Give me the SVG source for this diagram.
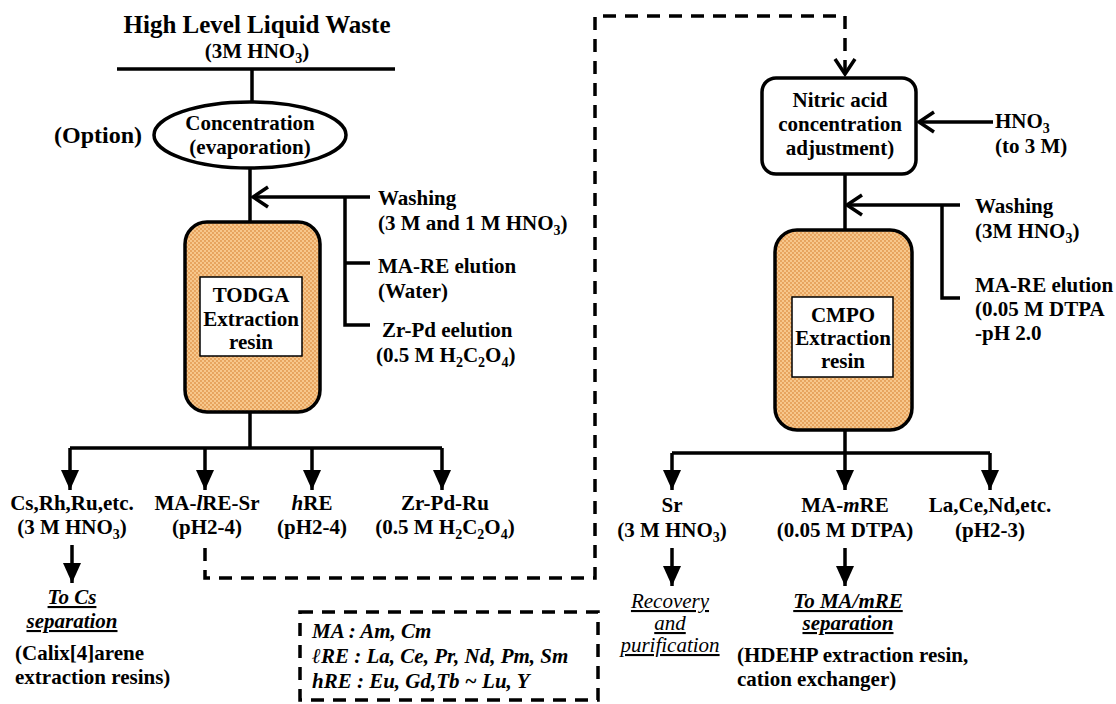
<svg xmlns="http://www.w3.org/2000/svg" width="1116" height="704" viewBox="0 0 1116 704">
<style>
.t{font-family:"Liberation Serif","Times New Roman",serif;font-weight:bold;font-size:21px;fill:#000}
.ttl{font-size:25px}
.opt{font-size:24px}
.n{font-weight:normal}
.sub{font-size:14px}
.m{text-anchor:middle}
.it{font-style:italic}
.u{text-decoration:underline}
.ln{fill:none;stroke:#000;stroke-width:3.5}
.ds{fill:none;stroke:#000;stroke-width:3.5;stroke-dasharray:13 9}
.box{fill:#fff;stroke:#000;stroke-width:3.5}
.inner{fill:#fff;stroke:#000;stroke-width:1.5}
.resin{fill:url(#dots);stroke:#000;stroke-width:3.5}
</style>
<defs>
<pattern id="dots" width="4" height="4" patternUnits="userSpaceOnUse">
<rect width="4" height="4" fill="#f7c78c"/>
<circle cx="1" cy="1" r="0.9" fill="#e0944a"/>
<circle cx="3" cy="3" r="0.9" fill="#e0944a"/>
</pattern>
<marker id="fa" viewBox="0 0 20 18" refX="20" refY="9" markerWidth="20" markerHeight="18" markerUnits="userSpaceOnUse" orient="auto">
<path d="M0,0 L20,9 L0,18 z" fill="#000"/>
</marker>
<marker id="oa" viewBox="-18 -12 20 24" refX="0" refY="0" markerWidth="20" markerHeight="24" markerUnits="userSpaceOnUse" orient="auto" overflow="visible">
<path d="M-15,-10 L0,0 L-15,10" fill="none" stroke="#000" stroke-width="3.5"/>
</marker>
</defs>
<rect width="1116" height="704" fill="#fff"/>

<g id="connectors">
<path class="ln" d="M117,69 H395 M252,69 V102 M250,168 V222"/>
<path class="ln" d="M370,197 H253" marker-end="url(#oa)"/>
<path class="ln" d="M345,197 V325 H370 M345,263 H370"/>
<path class="ln" d="M250,412 V448 M70,448 H442"/>
<path class="ln" d="M70,448 V490" marker-end="url(#fa)"/>
<path class="ln" d="M205,448 V490" marker-end="url(#fa)"/>
<path class="ln" d="M312,448 V490" marker-end="url(#fa)"/>
<path class="ln" d="M442,448 V490" marker-end="url(#fa)"/>
<path class="ln" d="M72,545 V583" marker-end="url(#fa)"/>
<path class="ds" d="M205,548 V578 H595 V16 H845 V74" marker-end="url(#oa)"/>
<path class="ln" d="M993,122 H919" marker-end="url(#oa)"/>
<path class="ln" d="M845,174 V230"/>
<path class="ln" d="M960,205 H847" marker-end="url(#oa)"/>
<path class="ln" d="M942,205 V298 H960"/>
<path class="ln" d="M845,430 V453 M672,453 H990"/>
<path class="ln" d="M672,453 V490" marker-end="url(#fa)"/>
<path class="ln" d="M845,453 V490" marker-end="url(#fa)"/>
<path class="ln" d="M990,453 V490" marker-end="url(#fa)"/>
<path class="ln" d="M672,548 V586" marker-end="url(#fa)"/>
<path class="ln" d="M845,548 V586" marker-end="url(#fa)"/>
</g>

<g id="hllw">
<text class="t ttl m" x="257" y="33">High Level Liquid Waste</text>
<text class="t m" x="257" y="58">(3M HNO<tspan class="sub" dy="5">3</tspan><tspan dy="-5">)</tspan></text>
</g>

<g id="option">
<text class="t opt" x="54" y="143">(Option)</text>
</g>

<g id="concentration">
<ellipse cx="250" cy="135" rx="96" ry="33" class="box"/>
<text class="t m" x="250" y="130">Concentration</text>
<text class="t m" x="250" y="154">(evaporation)</text>
</g>

<g id="left-inputs">
<text class="t" x="378" y="205">Washing</text>
<text class="t" x="378" y="230">(3 M and 1 M HNO<tspan class="sub" dy="5">3</tspan><tspan dy="-5">)</tspan></text>
<text class="t" x="378" y="273">MA-RE elution</text>
<text class="t" x="378" y="298">(Water)</text>
<text class="t" x="382" y="337">Zr-Pd eelution</text>
<text class="t" x="376" y="362">(0.5 M H<tspan class="sub" dy="5">2</tspan><tspan dy="-5">C</tspan><tspan class="sub" dy="5">2</tspan><tspan dy="-5">O</tspan><tspan class="sub" dy="5">4</tspan><tspan dy="-5">)</tspan></text>
</g>

<g id="todga">
<rect x="185" y="222" width="135" height="190" rx="22" class="resin"/>
<rect x="200" y="277" width="102" height="79" class="inner"/>
<text class="t m" x="251" y="302">TODGA</text>
<text class="t m" x="251" y="326">Extraction</text>
<text class="t m" x="251" y="349">resin</text>
</g>

<g id="out-cs">
<text class="t m" x="72" y="510">Cs,Rh,Ru,etc.</text>
<text class="t m" x="72" y="534">(3 M HNO<tspan class="sub" dy="5">3</tspan><tspan dy="-5">)</tspan></text>
</g>
<g id="out-ma-lre-sr">
<text class="t m" x="207" y="510">MA-<tspan class="it">l</tspan>RE-Sr</text>
<text class="t m" x="207" y="534">(pH2-4)</text>
</g>
<g id="out-hre">
<text class="t m" x="312" y="510"><tspan class="it">h</tspan>RE</text>
<text class="t m" x="312" y="534">(pH2-4)</text>
</g>
<g id="out-zr">
<text class="t m" x="445" y="510">Zr-Pd-Ru</text>
<text class="t m" x="445" y="534">(0.5 M H<tspan class="sub" dy="5">2</tspan><tspan dy="-5">C</tspan><tspan class="sub" dy="5">2</tspan><tspan dy="-5">O</tspan><tspan class="sub" dy="5">4</tspan><tspan dy="-5">)</tspan></text>
</g>

<g id="to-cs">
<text class="t m it u" x="72" y="604">To Cs</text>
<text class="t m it u" x="72" y="628">separation</text>
<text class="t" x="15" y="660">(Calix[4]arene</text>
<text class="t" x="15" y="684">extraction resins)</text>
</g>

<g id="legend">
<rect x="300" y="612" width="298" height="88" class="ds"/>
<text class="t it" x="312" y="638">MA :  Am, Cm</text>
<text class="t it" x="312" y="663">ℓRE : La, Ce, Pr, Nd, Pm, Sm</text>
<text class="t it" x="312" y="688">hRE :  Eu, Gd,Tb ~ Lu, Y</text>
</g>

<g id="nitric">
<rect x="762" y="78" width="154" height="96" rx="14" class="box"/>
<text class="t m" x="840" y="107">Nitric acid</text>
<text class="t m" x="840" y="131">concentration</text>
<text class="t m" x="840" y="155">adjustment)</text>
</g>
<g id="hno3">
<text class="t" x="995" y="128">HNO<tspan class="sub" dy="5">3</tspan></text>
<text class="t" x="995" y="153">(to 3 M)</text>
</g>

<g id="right-inputs">
<text class="t" x="975" y="213">Washing</text>
<text class="t" x="975" y="238">(3M HNO<tspan class="sub" dy="5">3</tspan><tspan dy="-5">)</tspan></text>
<text class="t" x="975" y="292">MA-RE elution</text>
<text class="t" x="975" y="316">(0.05 M DTPA</text>
<text class="t" x="975" y="340">-pH 2.0</text>
</g>

<g id="cmpo">
<rect x="775" y="230" width="137" height="200" rx="22" class="resin"/>
<rect x="792" y="297" width="101" height="80" class="inner"/>
<text class="t m" x="843" y="322">CMPO</text>
<text class="t m" x="843" y="345">Extraction</text>
<text class="t m" x="843" y="368">resin</text>
</g>

<g id="out-sr">
<text class="t m" x="672" y="512">Sr</text>
<text class="t m" x="672" y="537">(3 M HNO<tspan class="sub" dy="5">3</tspan><tspan dy="-5">)</tspan></text>
</g>
<g id="out-ma-mre">
<text class="t m" x="845" y="512">MA-<tspan class="it">m</tspan>RE</text>
<text class="t m" x="845" y="537">(0.05 M DTPA)</text>
</g>
<g id="out-la">
<text class="t m" x="990" y="512">La,Ce,Nd,etc.</text>
<text class="t m" x="990" y="537">(pH2-3)</text>
</g>

<g id="recovery">
<text class="t n m it u" x="670" y="608">Recovery</text>
<text class="t n m it u" x="670" y="630">and</text>
<text class="t n m it u" x="670" y="652">purification</text>
</g>
<g id="to-ma">
<text class="t m it u" x="848" y="608">To MA/mRE</text>
<text class="t m it u" x="848" y="630">separation</text>
<text class="t" x="737" y="662">(HDEHP extraction resin,</text>
<text class="t" x="737" y="686">cation exchanger)</text>
</g>
</svg>
